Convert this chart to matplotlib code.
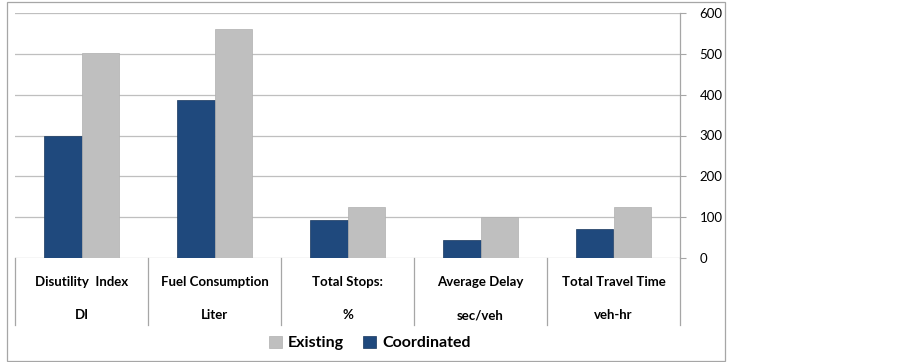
import matplotlib
matplotlib.use("Agg")
import matplotlib.pyplot as plt
from matplotlib.patches import Rectangle
from matplotlib.lines import Line2D
import numpy as np

categories = ["Disutility  Index", "Fuel Consumption", "Total Stops:", "Average Delay", "Total Travel Time"]
units = ["DI", "Liter", "%", "sec/veh", "veh-hr"]
coordinated = [298, 387, 93, 44, 70]
existing = [503, 562, 124, 100, 126]
yticks = [0, 100, 200, 300, 400, 500, 600]

W, H = 902, 362
fig = plt.figure(figsize=(W / 100, H / 100), dpi=100)
plt.rcParams['font.family'] = ['Lato', 'DejaVu Sans']

# outer border
fig.patches.append(Rectangle((6.5 / W, 1.0 / H), (725 - 6.5) / W, (360 - 1.0) / H,
                             transform=fig.transFigure, fill=False,
                             edgecolor='#A6A6A6', linewidth=0.9))

left, right, top, zero = 15, 680, 13, 258
ax = fig.add_axes([left / W, (H - zero) / H, (right - left) / W, (zero - top) / H])

x = np.arange(len(categories))
bw = 0.282
blue = '#1F497D'
gray = '#BFBFBF'
b1 = ax.bar(x - bw / 2, coordinated, bw, color=blue, edgecolor='#17375E', linewidth=0.5, zorder=3)
b2 = ax.bar(x + bw / 2, existing, bw, color=gray, edgecolor='#B0B0B0', linewidth=0.5, zorder=3)

ax.set_xlim(-0.5, len(categories) - 0.5)
ax.set_ylim(0, 600)
ax.set_yticks(yticks)
ax.yaxis.tick_right()
ax.tick_params(axis='y', which='major', length=4, width=0.8, color='#A6A6A6',
               labelsize=9.5, pad=10, direction='out')
for lab in ax.get_yticklabels():
    lab.set_horizontalalignment('left')
ax.tick_params(axis='x', length=0, labelbottom=False)
ax.grid(axis='y', color='#BFBFBF', linewidth=0.9, zorder=0)
for s in ['top', 'left', 'bottom']:
    ax.spines[s].set_visible(False)
ax.spines['right'].set_color('#A6A6A6')
ax.spines['right'].set_linewidth(0.9)

# category table lines
below = (325 - zero) / (zero - top)
trans = ax.get_xaxis_transform()
for b in np.arange(-0.5, len(categories), 1.0):
    ax.add_line(Line2D([b, b], [0, -below], transform=trans, color='#A6A6A6',
                       linewidth=0.9, clip_on=False))

l1 = -(282 - zero) / (zero - top)
l2 = -(315 - zero) / (zero - top)
for i, (c, u) in enumerate(zip(categories, units)):
    ax.text(i, l1, c, transform=trans, ha='center', va='center', fontsize=9.5, fontweight='bold')
    ax.text(i, l2, u, transform=trans, ha='center', va='center', fontsize=9.5, fontweight='bold')

fig.legend([b2, b1], ["Existing", "Coordinated"], loc='center', ncol=2,
           bbox_to_anchor=(370 / W, (H - 343) / H), frameon=False,
           prop={'weight': 'bold', 'size': 11.5}, handlelength=0.8, handleheight=0.8,
           handletextpad=0.4, columnspacing=1.2)

fig.savefig("out.png", dpi=100)
